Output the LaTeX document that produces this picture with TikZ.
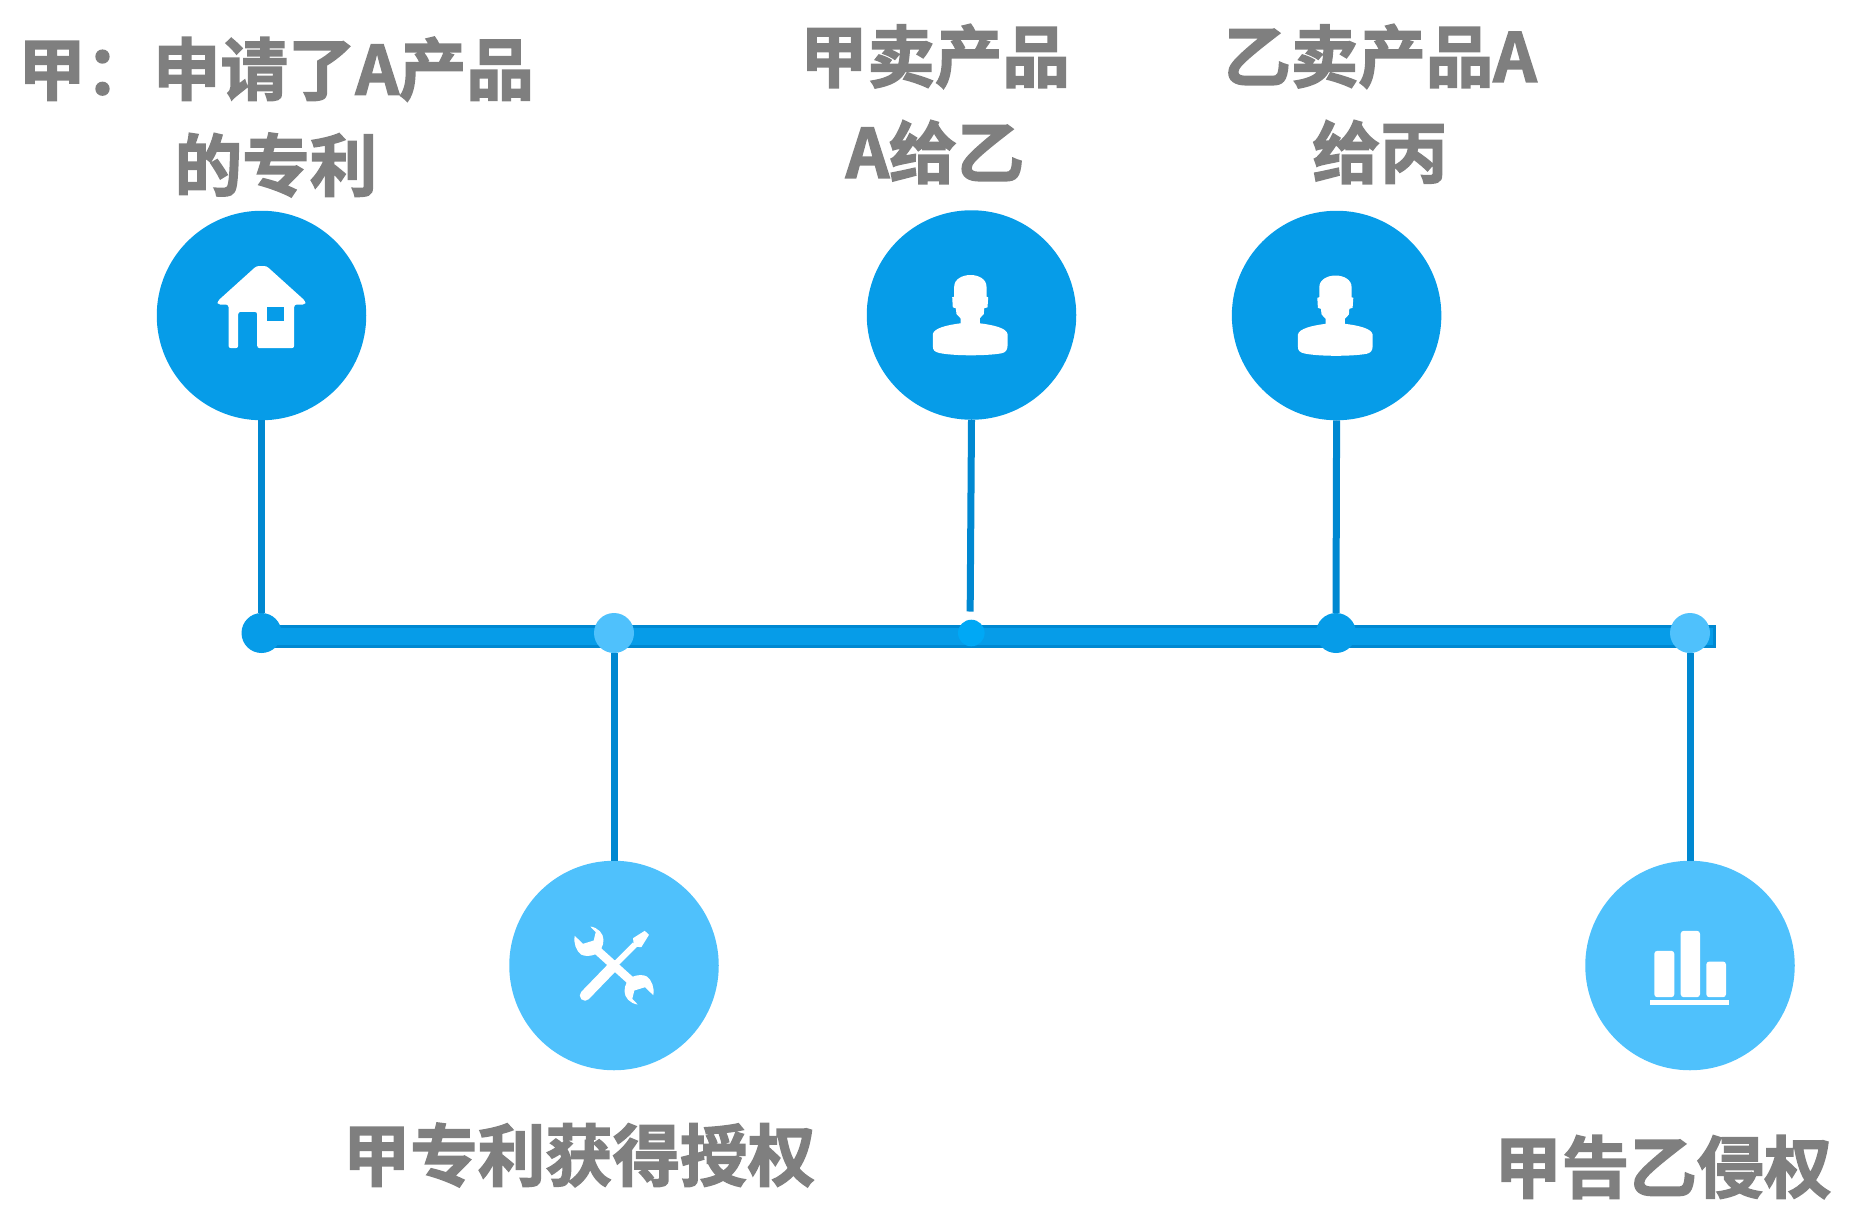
\documentclass[tikz,border=0pt]{standalone}
\usepackage{fontspec}
\usepackage{xcolor}
\setmainfont{Noto Sans CJK SC}[BoldFont={Noto Sans CJK SC Bold},BoldFeatures={FakeBold=2.2}]
\usetikzlibrary{positioning}
\definecolor{EventBlue}{RGB}{6,156,232}
\definecolor{EventSky}{RGB}{79,193,252}
\definecolor{StemBlue}{RGB}{0,136,209}
\definecolor{DotBlue}{RGB}{0,168,245}
\definecolor{LabelGrey}{RGB}{127,127,127}

\begin{document}
\begin{tikzpicture}[
x=1pt,y=-1pt,
bigdisc/.style={
  circle,
  inner sep=0pt,
  minimum size=209.5pt
},
smalldot/.style={
  circle,
  inner sep=0pt,
  minimum size=40pt
},
stem/.style={line width=7pt,draw=StemBlue},
caption/.style={
  align=center,
  text=LabelGrey,
  font=\fontsize{67.5}{96}\selectfont\bfseries
},
timeline/.style={
  rectangle,
  inner sep=0pt,
  draw=StemBlue,
  line width=3pt,
  fill=EventBlue,
  minimum width=1451.5pt,
  minimum height=20pt
},
house/.pic={
  \fill[white,rounded corners=2.5pt] (0,-49.5) -- (-5,-49.5) -- (-43.8,-14.5) -- (-43.8,-11) -- (-33,-11) -- (-33,32.7) -- (-23.3,32.7) -- (-23.3,-3.7) -- (-4.3,-3.7) -- (-4.3,32.7) -- (32.7,32.7) -- (32.7,-11) -- (43.8,-11) -- (43.8,-14.5) -- (5,-49.5) -- cycle;
  \fill[EventBlue] (5.7,-8.7) rectangle (22.3,5.3);
},
person/.pic={
  \fill[white] (-17.3,-28.3) .. controls (-17.3,-36) and (-9,-40) .. (-1,-40)
    .. controls (7,-40) and (15,-36) .. (15,-28.3) -- (15,-18.3) -- (16.7,-17.7) -- (16,-7.7)
    -- (12.7,-6.7) -- (12.3,-1) -- (8.3,3.3) -- (8.3,8.3)
    .. controls (22,10) and (35,13) .. (36,19) -- (36,31)
    .. controls (36,35) and (34,37.5) .. (30,38.3)
    .. controls (15,41) and (-18,41) .. (-32,38)
    .. controls (-37,37) and (-38.7,35) .. (-38.7,31) -- (-38.7,19)
    .. controls (-37.5,13) and (-24,10) .. (-11,8.3) -- (-11,3.3) -- (-15,-1) -- (-15.7,-6.7)
    -- (-18.7,-7.7) -- (-19.3,-17.7) -- (-17.3,-18.3) -- cycle;
},
wrenchhead/.pic={
  \fill[white] (-23.7,-39) .. controls (-16,-38) and (-10.5,-32) .. (-10.5,-25.7)
    .. controls (-10.5,-19) and (-14,-14) .. (-17.7,-11.5)
    .. controls (-24,-9) and (-29,-9) .. (-33,-11)
    .. controls (-38,-15) and (-40.5,-22) .. (-39.3,-29.7)
    -- (-31,-21.7) -- (-20.3,-25) -- (-18.3,-33.3) -- cycle;
},
tools/.pic={
  \draw[white,line width=10.5pt,line cap=round] (-29,30) -- (0,0);
  \draw[white,line width=6pt] (0,0) -- (21,-21);
  \fill[white] (19,-27.3) -- (30.7,-34.7) -- (35,-30.7) -- (27.3,-18.3) -- (20,-19) -- cycle;
  \draw[white,line width=8.5pt] (-21,-19) -- (21,19);
  \pic {wrenchhead};
  \pic[rotate=180] {wrenchhead};
},
barchart/.pic={
  \fill[white,rounded corners=3pt] (-35.7,31.7) -- (-35.7,-14.7) -- (-15.7,-14.7) -- (-15.7,31.7) -- cycle;
  \fill[white,rounded corners=3pt] (-9.3,31.7) -- (-9.3,-34.7) -- (10,-34.7) -- (10,31.7) -- cycle;
  \fill[white,rounded corners=3pt] (16.3,31.7) -- (16.3,-4) -- (36,-4) -- (36,31.7) -- cycle;
  \fill[white] (-39.7,34.3) rectangle (39.3,39.3);
}
]
\useasboundingbox (0,0) rectangle (1863,1224);

% time axis and its event dots
\node[timeline] (axis) at (988.5,636.5) {};
\node[smalldot,fill=EventBlue] (dotA) at (261.5,633) {};
\node[smalldot,fill=EventSky] (dotB) at (614,633) {};
\node[smalldot,fill=DotBlue,minimum size=26.6pt] (dotC) at (971.3,633) {};
\node[smalldot,fill=EventBlue] (dotD) at (1336,633) {};
\node[smalldot,fill=EventSky] (dotE) at (1690,633) {};

% discs
\node[bigdisc,fill=EventBlue] (apply) at (261.5,315.5) {};
\node[bigdisc,fill=EventSky] (grant) at (614,965.5) {};
\node[bigdisc,fill=EventBlue] (sellA) at (971.5,315) {};
\node[bigdisc,fill=EventBlue] (sellB) at (1336.6,315.5) {};
\node[bigdisc,fill=EventSky] (sue) at (1690,965.5) {};

\pic at (apply) {house};
\pic at (grant) {tools};
\pic at (sellA) {person};
\pic at (sellB) {person};
\pic at (sue) {barchart};

\draw[stem] (apply) -- (dotA);
\draw[stem] (dotB) -- (grant);
\draw[stem,shorten >=8pt] (sellA.south) -- ([xshift=-1.2pt]dotC.north);
\draw[stem] (sellB.270.5) -- (dotD.north);
\draw[stem] (dotE) -- (sue);

% captions
\node[caption] (applyText) at (276,117) {甲：申请了A产品\\的专利};
\node[caption] (sellAText) at (935,104) {甲卖产品\\A给乙};
\node[caption] (sellBText) at (1380,104) {乙卖产品A\\给丙};
\node[caption] (grantText) at (579,1155) {甲专利获得授权};
\node[caption] (sueText) at (1663,1167) {甲告乙侵权};
\end{tikzpicture}
\end{document}
